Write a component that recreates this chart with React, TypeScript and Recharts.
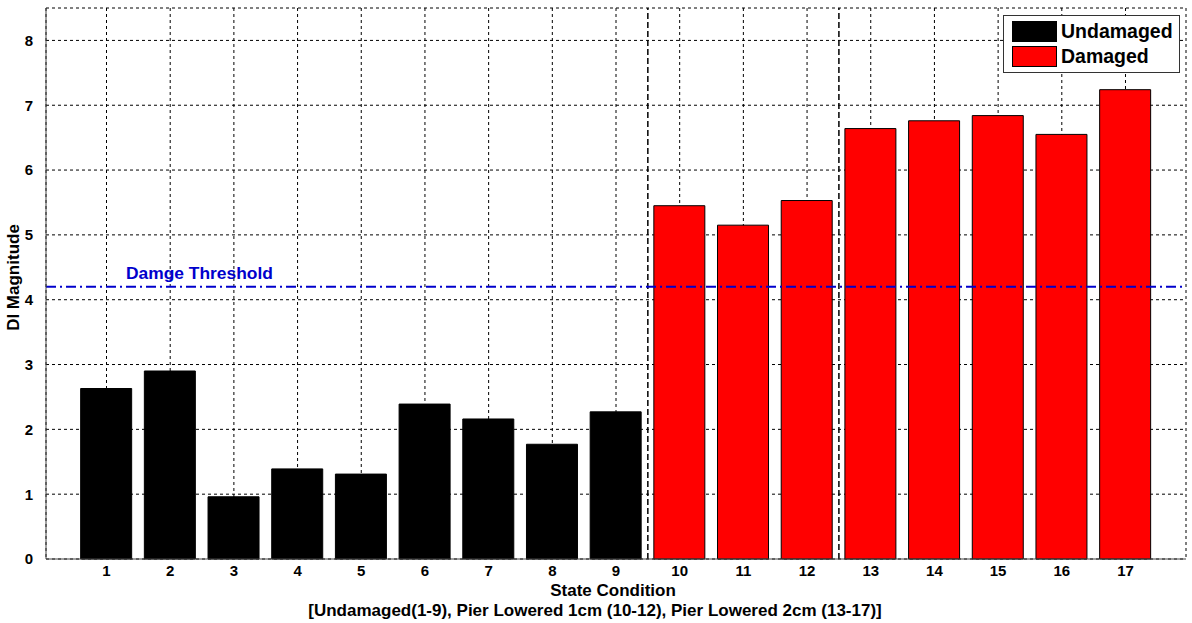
import { BarChart, Bar, XAxis, YAxis, CartesianGrid, ReferenceLine } from 'recharts'

const STATES = [1, 2, 3, 4, 5, 6, 7, 8, 9, 10, 11, 12, 13, 14, 15, 16, 17]
const UNDAMAGED = [2.63, 2.9, 0.96, 1.39, 1.31, 2.39, 2.16, 1.77, 2.27]
const DAMAGED = [5.45, 5.15, 5.53, 6.64, 6.76, 6.84, 6.55, 7.24]
const Y_TICKS = [0, 1, 2, 3, 4, 5, 6, 7, 8]
const THRESHOLD = 4.2
const GROUP_SPLITS = [9.5, 12.5]

const data = STATES.map((s, i) => ({
  state: s,
  undamaged: i < UNDAMAGED.length ? UNDAMAGED[i] : null,
  damaged: i >= UNDAMAGED.length ? DAMAGED[i - UNDAMAGED.length] : null,
}))

const FONT = 'Arial, "Liberation Sans", sans-serif'

function LegendBox() {
  const items = [
    { label: 'Undamaged', color: '#000000' },
    { label: 'Damaged', color: '#ff0000' },
  ]
  return (
    <div style={{ position: 'absolute', top: 15, left: 1003, width: 167, background: '#fff', border: '1px solid #333', padding: '3px 0 3px 8px', fontFamily: FONT, fontWeight: 'bold', fontSize: 19.5 }}>
      {items.map((it) => (
        <div key={it.label} style={{ display: 'flex', alignItems: 'center', height: 25 }}>
          <span style={{ width: 43, height: 19, background: it.color, border: '1px solid #000', marginRight: 4, display: 'inline-block', flexShrink: 0 }} />
          <span>{it.label}</span>
        </div>
      ))}
    </div>
  )
}

function XLabel(props: any) {
  const vb = props.viewBox
  const cx = vb.x + vb.width / 2
  return (
    <g fontFamily={FONT} fontWeight="bold" fontSize={17} fill="#000">
      <text x={cx - 3} y={vb.y + 37} textAnchor="middle">State Condition</text>
      <text x={cx - 21} y={vb.y + 57} textAnchor="middle">[Undamaged(1-9), Pier Lowered 1cm (10-12), Pier Lowered 2cm (13-17)]</text>
    </g>
  )
}

function YLabel(props: any) {
  const vb = props.viewBox
  const cy = vb.y + vb.height / 2
  return (
    <text x={19} y={cy - 6} transform={`rotate(-90 19 ${cy - 6})`} textAnchor="middle" fontFamily={FONT} fontWeight="bold" fontSize={17} fill="#000">
      DI Magnitude
    </text>
  )
}

function ThresholdLabel(props: any) {
  const vb = props.viewBox
  return (
    <text x={vb.x + 80} y={vb.y - 8} fill="#0000cc" fontFamily={FONT} fontWeight="bold" fontSize={17.4}>
      Damge Threshold
    </text>
  )
}

export default function App() {
  return (
    <div style={{ position: 'absolute', left: 0, top: 0, width: 1192, height: 623, background: '#fff' }}>
      <BarChart width={1192} height={623} data={data} margin={{ top: 8, right: 6, left: 0, bottom: 34 }}>
        <CartesianGrid stroke="#000" strokeDasharray="3 3" strokeWidth={1} />
        <XAxis
          dataKey="state"
          type="number"
          domain={[0.05, 17.95]}
          ticks={STATES}
          height={30}
          stroke="#444"
          tickLine={false}
          tick={{ fill: '#000', fontFamily: FONT, fontWeight: 'bold', fontSize: 15 }}
          tickMargin={0}
          label={<XLabel />}
        />
        <XAxis xAxisId="top" orientation="top" type="number" dataKey="state" domain={[0.05, 17.95]} height={0} tick={false} tickLine={false} stroke="#444" />
        <YAxis
          domain={[0, 8.5]}
          ticks={Y_TICKS}
          width={46}
          stroke="#444"
          tickLine={false}
          tick={{ fill: '#000', fontFamily: FONT, fontWeight: 'bold', fontSize: 15 }}
          tickMargin={7}
          label={<YLabel />}
        />
        <YAxis yAxisId="right" orientation="right" width={0} domain={[0, 8.5]} tick={false} tickLine={false} stroke="#444" />
        {GROUP_SPLITS.map((x) => (
          <ReferenceLine key={x} x={x} stroke="#000" strokeWidth={1.5} strokeDasharray="6 3" />
        ))}
        <Bar dataKey="undamaged" name="Undamaged" stackId="s" fill="#000" stroke="#000" barSize={51} isAnimationActive={false} />
        <Bar dataKey="damaged" name="Damaged" stackId="s" fill="#ff0000" stroke="#000" strokeWidth={1} barSize={51} isAnimationActive={false} />
        <ReferenceLine y={THRESHOLD} stroke="#0000cc" strokeWidth={2} strokeDasharray="10 4 2 4" label={<ThresholdLabel />} />
      </BarChart>
      <LegendBox />
    </div>
  )
}
